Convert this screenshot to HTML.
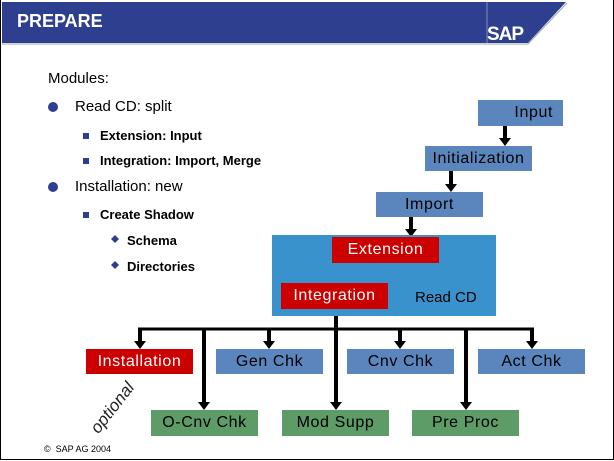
<!DOCTYPE html>
<html><head><meta charset="utf-8"><style>
body{margin:0;width:614px;height:461px;background:#fff;position:relative;overflow:hidden;font-family:"Liberation Sans",Arial,sans-serif;}
.a{position:absolute;}
.box{position:absolute;display:flex;align-items:center;justify-content:center;font-size:16px;font-weight:normal;letter-spacing:0.6px;}
.bl{background:#5a86bd;color:#000;}
.rd{background:#cc0000;color:#fff;}
.gr{background:#5d9b67;color:#000;}
.t{position:absolute;font-weight:bold;color:#000;white-space:nowrap;}
</style></head><body>
<div class="a" style="left:0;top:0;width:612px;height:459px;border:1px solid #000;border-top:none;"></div>
<svg class="a" style="left:0;top:0" width="614" height="461">
<polygon points="2,2 566,2 528,43 2,43" fill="#2e3f8f"/>
<polyline points="2,44 528,44 567,3" stroke="#9aa" stroke-width="1" fill="none"/>
<line x1="487" y1="2" x2="487" y2="43" stroke="#7f8fc0" stroke-width="1"/>
<g stroke="#000" stroke-width="4" fill="#000">
<line x1="505" y1="126" x2="505" y2="140"/><polygon points="499,138 511,138 505,146" stroke="none"/>
<line x1="451" y1="171" x2="451" y2="186"/><polygon points="445,184 457,184 451,192" stroke="none"/>
<line x1="411" y1="217" x2="411" y2="230"/><polygon points="405,229 417,229 411,237" stroke="none"/>
<line x1="357" y1="263" x2="357" y2="277"/><polygon points="351,275 363,275 357,283" stroke="none"/>
<line x1="336" y1="309" x2="336" y2="404"/>
<line x1="138" y1="329" x2="534" y2="329" stroke-width="3"/>
<line x1="140" y1="329" x2="140" y2="343"/><polygon points="134,341 146,341 140,349" stroke="none"/>
<line x1="269" y1="329" x2="269" y2="343"/><polygon points="263,341 275,341 269,349" stroke="none"/>
<line x1="400" y1="329" x2="400" y2="343"/><polygon points="394,341 406,341 400,349" stroke="none"/>
<line x1="532" y1="329" x2="532" y2="343"/><polygon points="526,341 538,341 532,349" stroke="none"/>
<line x1="204" y1="329" x2="204" y2="404"/><polygon points="198,402 210,402 204,410" stroke="none"/>
<polygon points="330,402 342,402 336,410" stroke="none"/>
<line x1="466" y1="329" x2="466" y2="404"/><polygon points="460,402 472,402 466,410" stroke="none"/>
</g>
<circle cx="53" cy="107" r="5" fill="#2e3f8f"/>
<circle cx="53" cy="187" r="5" fill="#2e3f8f"/>
<rect x="83" y="133" width="6" height="6" fill="#2e3f8f"/>
<rect x="83" y="158" width="6" height="6" fill="#2e3f8f"/>
<rect x="83" y="212" width="6" height="6" fill="#2e3f8f"/>
<polygon points="115,235 119,239 115,243 111,239" fill="#2e3f8f"/>
<polygon points="115,261 119,265 115,269 111,265" fill="#2e3f8f"/>
</svg>
<div class="t" style="left:17px;top:11px;color:#fff;font-size:18px;">PREPARE</div>
<div class="t" style="left:487px;top:24px;color:#fff;font-size:19px;letter-spacing:-1px;">SAP</div>
<div class="t" style="left:48px;top:70px;font-size:15px;font-weight:normal;">Modules:</div>
<div class="t" style="left:75px;top:98px;font-size:15px;font-weight:normal;">Read CD: split</div>
<div class="t" style="left:100px;top:128px;font-size:13px;">Extension: Input</div>
<div class="t" style="left:100px;top:153px;font-size:13px;">Integration: Import, Merge</div>
<div class="t" style="left:75px;top:178px;font-size:15px;font-weight:normal;">Installation: new</div>
<div class="t" style="left:100px;top:207px;font-size:13px;">Create Shadow</div>
<div class="t" style="left:127px;top:233px;font-size:13px;">Schema</div>
<div class="t" style="left:127px;top:259px;font-size:13px;">Directories</div>
<div class="box bl" style="left:478px;top:100px;width:85px;height:26px;justify-content:flex-end;"><span style="margin-right:10px">Input</span></div>
<div class="box bl" style="left:425px;top:146px;width:107px;height:25px;">Initialization</div>
<div class="box bl" style="left:376px;top:192px;width:107px;height:25px;">Import</div>
<div class="a" style="left:272px;top:235px;width:224px;height:81px;background:#3a92cc;"></div>
<div class="box rd" style="left:332px;top:237px;width:107px;height:26px;">Extension</div>
<div class="box rd" style="left:281px;top:283px;width:107px;height:26px;">Integration</div>
<div class="t" style="left:415px;top:289px;font-size:15px;font-weight:normal;">Read CD</div>
<div class="box rd" style="left:86px;top:349px;width:107px;height:25px;">Installation</div>
<div class="box bl" style="left:216px;top:349px;width:107px;height:25px;">Gen Chk</div>
<div class="box bl" style="left:347px;top:349px;width:107px;height:25px;">Cnv Chk</div>
<div class="box bl" style="left:478px;top:349px;width:107px;height:25px;">Act Chk</div>
<div class="box gr" style="left:151px;top:410px;width:107px;height:26px;">O-Cnv Chk</div>
<div class="box gr" style="left:282px;top:410px;width:107px;height:26px;">Mod Supp</div>
<div class="box gr" style="left:412px;top:410px;width:107px;height:26px;">Pre Proc</div>
<div class="t" style="left:83px;top:398px;font-size:17px;font-weight:normal;font-style:italic;color:#222;transform:rotate(-52deg);">optional</div>
<div class="t" style="left:44px;top:444px;font-size:9px;font-weight:normal;">©&nbsp; SAP AG 2004</div>
</body></html>
